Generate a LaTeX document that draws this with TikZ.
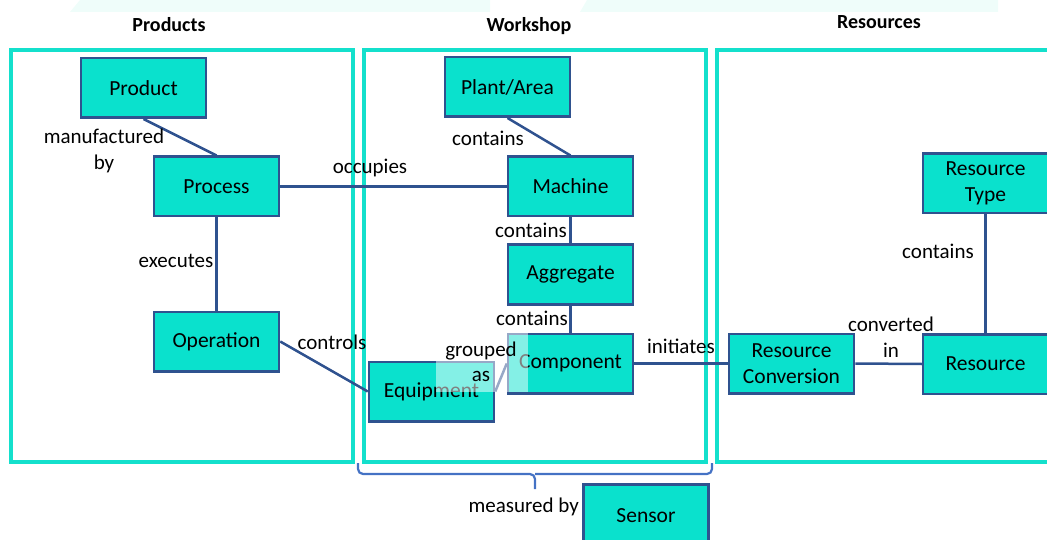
\documentclass[tikz,border=0pt]{standalone}
\usepackage{fontspec}
\setmainfont{Carlito}
\usetikzlibrary{backgrounds}
\definecolor{nodefill}{RGB}{10,225,205}
\definecolor{nodeblue}{RGB}{47,82,143}
\definecolor{areacyan}{RGB}{20,224,204}
\definecolor{bracecol}{RGB}{68,114,196}
\definecolor{faint}{RGB}{239,253,250}
\begin{document}
\begin{tikzpicture}[x=1pt,y=-1pt,
  box/.style={draw=nodeblue, line width=2.5pt, fill=nodefill, minimum width=125pt, minimum height=59.5pt, align=center, font=\fontsize{21.5}{26}\selectfont, inner sep=2pt},
  lbl/.style={font=\fontsize{21}{25.5}\selectfont, align=center, inner sep=0pt},
  conn/.style={draw=nodeblue, line width=2.5pt},
  area/.style={draw=areacyan, line width=3.5pt},
  ttl/.style={font=\bfseries\fontsize{20}{24}\selectfont, inner sep=0pt}]
\useasboundingbox (0,0) rectangle (1047,540);
\fill[faint] (80,0) -- (490,0) -- (490,12) -- (70,12) -- cycle;
\fill[faint] (587,0) -- (998,0) -- (998,12) -- (580,12) -- cycle;

\node[ttl] (tprod) at (169,25) {Products};
\node[ttl] (twork) at (529,26) {Workshop};
\node[ttl] (tres) at (879,22) {Resources};

\node[box] (product) at (143.5,88) {Product};
\node[box] (process) at (216.5,186.5) {Process};
\node[box] (operation) at (216.5,341.5) {Operation};
\node[box] (plant) at (507.5,87) {Plant/Area};
\node[box] (machine) at (570.5,186.5) {Machine};
\node[box] (aggregate) at (570.5,274.5) {Aggregate};
\node[box] (component) at (570.5,363.5) {Component};
\node[box] (equipment) at (431.5,391.5) {Equipment};
\node[box] (conversion) at (791.5,363.5) {Resource\\Conversion};
\node[box] (resource) at (985.5,364) {Resource};
\node[box] (rtype) at (985.5,183.5) {Resource\\Type};
\node[box, minimum height=63.5pt] (sensor) at (646,516) {Sensor};

\begin{pgfonlayer}{background}
\draw[area] (11,50) rectangle (353,462);
\draw[area] (364,50) rectangle (706,462);
\draw[area] (717,50) rectangle (1060,462);
\draw[conn] (product.south) -- (process.north);
\draw[conn] (process.east) -- (machine.west);
\draw[conn] (process.south) -- (operation.north);
\draw[conn] (operation.east) -- (equipment.west);
\draw[conn] (plant.south) -- (machine.north);
\draw[conn] (machine.south) -- (aggregate.north);
\draw[conn] (aggregate.south) -- (component.north);
\draw[conn] (component.east) -- (conversion.west);
\draw[conn] (conversion.east) -- (resource.west);
\draw[conn] (rtype.south) -- (resource.north);
\draw[conn] (equipment.east) -- (component.west);
\end{pgfonlayer}

\fill[white, opacity=0.5] (436,331) rectangle (528,392);

\draw[bracecol, line width=2.2pt, rounded corners=5pt] (358,463) |- (535,474) -- (535,489);
\draw[bracecol, line width=2.2pt, rounded corners=5pt] (712,463) |- (535,474);

\node[lbl] (lmanuf) at (104,151) {manufactured\\by};
\node[lbl] (loccup) at (370,168) {occupies};
\node[lbl] (lexec) at (176,261) {executes};
\node[lbl] (lctrl) at (332,342) {controls};
\node[lbl] (lcont1) at (488,138) {contains};
\node[lbl] (lcont2) at (531,230) {contains};
\node[lbl] (lcont3) at (532,318) {contains};
\node[lbl] (lgroup) at (481,362) {grouped\\as};
\node[lbl] (linit) at (681,346) {initiates};
\node[lbl] (lconv) at (891,337) {converted\\in};
\node[lbl] (lcont4) at (938,251) {contains};
\node[lbl, anchor=east] (lmeas) at (579,507) {measured by};
\end{tikzpicture}
\end{document}
